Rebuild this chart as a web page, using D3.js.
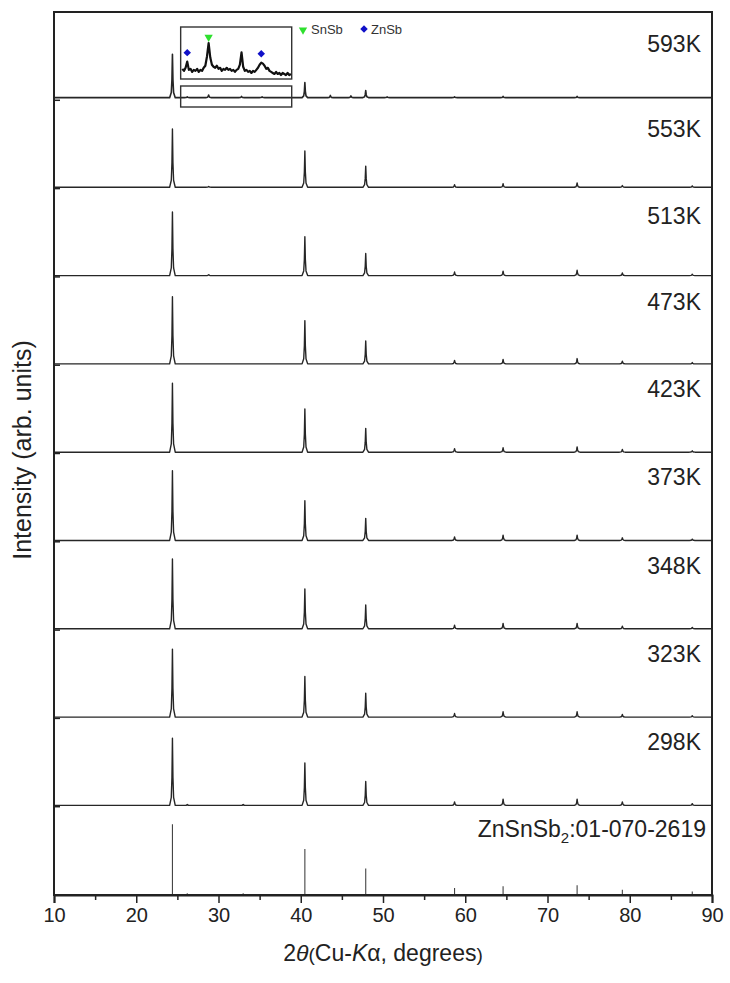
<!DOCTYPE html>
<html><head><meta charset="utf-8">
<script src="https://cdn.jsdelivr.net/npm/d3@7/dist/d3.min.js"></script>
<style>body{margin:0;background:#fff}svg{display:block}text{font-family:"Liberation Sans",Arial,sans-serif}</style>
</head><body>
<svg id="c" width="730" height="983"></svg>
<script>
// ---- data ----
const sampleLabels = ["593K","553K","513K","473K","423K","373K","348K","323K","298K"];
// peaks: [2theta, intensity (% of panel height)]
const peaks593 = [[24.4,49],[26.2,1],[28.8,3],[32.8,1.5],[35.3,1],[40.5,17],[43.6,2.5],[46.1,2],[47.9,8],[50.5,0.8],[58.7,1],[64.6,1.5],[73.6,1.5]];
const peaks553 = [[24.4,66],[28.8,1],[40.5,41],[47.9,24],[58.7,3],[64.6,4],[73.6,5],[79.1,2],[87.6,1.5]];
const peaks513 = [[24.4,72],[28.8,1],[40.5,44],[47.9,25],[58.7,4],[64.6,5],[73.6,6],[79.1,3],[87.6,1.5]];
const peaks473 = [[24.4,76],[40.5,49],[47.9,26],[58.7,4],[64.6,5],[73.6,6],[79.1,3],[87.6,1.5]];
const peaks423 = [[24.4,78],[40.5,49],[47.9,27],[58.7,4],[64.6,5],[73.6,6],[79.1,3],[87.6,1.5]];
const peaks373 = [[24.4,79],[40.5,45],[47.9,25],[58.7,4],[64.6,6],[73.6,6],[79.1,3],[87.6,1.5]];
const peaks348 = [[24.4,79],[40.5,45],[47.9,27],[58.7,4],[64.6,6],[73.6,6],[79.1,3],[87.6,1.5]];
const peaks323 = [[24.4,77],[40.5,46],[47.9,27],[58.7,4],[64.6,6],[73.6,6],[79.1,3],[87.6,1.5]];
const peaks298 = [[24.4,76],[26.2,1],[33,1],[40.5,48],[47.9,27],[58.7,4],[64.6,7],[73.6,7],[79.1,4],[87.6,2]];
const baselines = [3,1.5,1.5,1.5,1.5,1.5,1.5,1.5,1.5];
// reference pattern ZnSnSb2 01-070-2619: [2theta, relative intensity %]
const refSticks = [[24.4,80],[26.2,2],[33.0,2],[40.5,52],[47.9,30],[58.7,8],[64.6,10],[73.6,11],[79.1,6],[87.6,4]];
const refLabel = "ZnSnSb";
// inset: zoom of 593K pattern 25.6–38.8 deg (step 0.2)
const insetStart = 25.6, insetStep = 0.2;
const insetVals = [6,4,7,13,5,6,3,5,4,6,3,5,4,7,9,18,31,17,10,8,7,9,6,7,4,6,5,7,5,6,4,5,3,5,6,10,22,8,4,5,3,4,2,4,3,5,7,10,12,11,9,6,7,4,3,2,1,3,1,2,0,2,1,0,2,0,1];
const snsbMarks = [28.8];
const znsbMarks = [26.2, 35.2];
const xTicks = [10,20,30,40,50,60,70,80,90];

// ---- layout ----
const svg = d3.select("#c");
const L = 54, R = 712, T = 12, B = 895;
const nPanels = 10, pH = (B - T) / nPanels;
const labelDy = [40,37,35,33,32,31,32,32,32,30];
const FONT = '"Liberation Sans",Arial,sans-serif';
const x = d3.scaleLinear().domain([10, 90]).range([L, R]);
const peakSeries = [peaks593,peaks553,peaks513,peaks473,peaks423,peaks373,peaks348,peaks323,peaks298];
const shape = [[-0.34,0],[-0.14,0.12],[-0.06,0.42],[0,1],[0.06,0.42],[0.14,0.12],[0.34,0]];

function buildPoints(pk, b) {
  const pts = [[10, b]];
  pk.slice().sort((a,c)=>a[0]-c[0]).forEach(([p,h]) => {
    shape.forEach(([dx,f]) => pts.push([p+dx, b + h*f]));
  });
  pts.push([90, b]);
  return pts;
}

const col = "#262626";
peakSeries.forEach((pk, i) => {
  const bot = T + pH*(i+1);
  const y = d3.scaleLinear().domain([0,100]).range([bot, bot - pH]);
  const line = d3.line().x(d=>x(d[0])).y(d=>y(d[1]));
  svg.append("path").attr("d", line(buildPoints(pk, baselines[i])))
    .attr("fill","none").attr("stroke",col).attr("stroke-width", i===0?1.6:1.4).attr("stroke-linejoin","round");
  svg.append("text").attr("x", 701).attr("y", bot - pH + labelDy[i]).attr("text-anchor","end")
    .attr("font-size",23).attr("fill","#222").text(sampleLabels[i]);
});

// reference sticks
{
  const bot = B;
  const y = d3.scaleLinear().domain([0,100]).range([bot, bot - pH]);
  svg.selectAll(".stick").data(refSticks).enter().append("line")
    .attr("x1",d=>x(d[0])).attr("x2",d=>x(d[0])).attr("y1",y(0)).attr("y2",d=>y(d[1]))
    .attr("stroke","#444").attr("stroke-width",1.1);
  const t = svg.append("text").attr("x",706).attr("y", bot - pH + labelDy[9]).attr("text-anchor","end")
    .attr("font-size",23).attr("fill","#222");
  t.append("tspan").text(refLabel);
  t.append("tspan").attr("font-size",15).attr("dy",6).text("2");
  t.append("tspan").attr("dy",-6).text(":01-070-2619");
}

// inset boxes
const ix0 = x(insetStart - 0.2), ix1 = x(insetStart + insetStep*(insetVals.length-1) + 0.1);
svg.append("rect").attr("x",ix0).attr("y",86).attr("width",ix1-ix0).attr("height",21)
  .attr("fill","none").attr("stroke","#333").attr("stroke-width",1.4);
svg.append("rect").attr("x",ix0).attr("y",27).attr("width",ix1-ix0).attr("height",52)
  .attr("fill","#fff").attr("stroke","#333").attr("stroke-width",1.4);
const iy = d3.scaleLinear().domain([0,35]).range([75, 39]);
const insetLine = d3.line().x((d,i)=>x(insetStart + i*insetStep)).y(d=>iy(d));
svg.append("path").attr("d", insetLine(insetVals)).attr("fill","none")
  .attr("stroke","#111").attr("stroke-width",2.2).attr("stroke-linejoin","round");
function valAt(t){ const k = Math.round((t-insetStart)/insetStep); return insetVals[k]; }
const tri = d3.symbol().type(d3.symbolTriangle).size(30)();
const dia = d3.symbol().type(d3.symbolSquare).size(28)();
snsbMarks.forEach(t => {
  svg.append("path").attr("d", tri)
    .attr("transform",`translate(${x(t)},${iy(valAt(t)) - 6}) rotate(180)`).attr("fill","#2ee02e");
});
znsbMarks.forEach(t => {
  svg.append("path").attr("d", dia)
    .attr("transform",`translate(${x(t)},${iy(valAt(t)) - 9}) rotate(45)`).attr("fill","#1010c8");
});
// legend
svg.append("path").attr("d", tri).attr("transform","translate(303,30) rotate(180)").attr("fill","#2ee02e");
svg.append("text").attr("x",311).attr("y",34).attr("font-size",13).attr("fill","#333").text("SnSb");
svg.append("path").attr("d", dia).attr("transform","translate(364,29) rotate(45)").attr("fill","#1010c8");
svg.append("text").attr("x",371).attr("y",34).attr("font-size",13).attr("fill","#333").text("ZnSb");

// frame
svg.append("rect").attr("x",L).attr("y",T).attr("width",R-L).attr("height",B-T)
  .attr("fill","none").attr("stroke","#222").attr("stroke-width",2);
d3.range(1, nPanels).forEach(k => {
  svg.append("line").attr("x1",L).attr("x2",L+6).attr("y1",T+pH*k).attr("y2",T+pH*k)
    .attr("stroke","#222").attr("stroke-width",1.5);
});
// x axis
const xAxis = d3.axisBottom(x).tickValues(xTicks).tickSize(8).tickPadding(5).tickFormat(d3.format("d"));
const gx = svg.append("g").attr("transform",`translate(0,${B})`).call(xAxis);
gx.select(".domain").attr("stroke","#222").attr("stroke-width",2);
gx.selectAll(".tick line").attr("stroke","#222").attr("stroke-width",1.5);
gx.selectAll("text").attr("font-size",20).attr("fill","#222").attr("font-family",FONT);
const minor = d3.axisBottom(x).tickValues(d3.range(15, 90, 10)).tickSize(5).tickFormat("");
const gm = svg.append("g").attr("transform",`translate(0,${B})`).call(minor);
gm.select(".domain").remove();
gm.selectAll(".tick line").attr("stroke","#222").attr("stroke-width",1.5);

// axis titles
const xt = svg.append("text").attr("x",383).attr("y",961).attr("text-anchor","middle").attr("font-size",23).attr("fill","#222");
xt.append("tspan").text("2");
xt.append("tspan").attr("font-style","italic").text("θ");
xt.append("tspan").attr("font-size",19).text("(");
xt.append("tspan").text("Cu-");
xt.append("tspan").attr("font-style","italic").text("K");
xt.append("tspan").text("α, degrees");
xt.append("tspan").attr("font-size",19).text(")");
svg.append("text").attr("transform","translate(31,450) rotate(-90)").attr("text-anchor","middle")
  .attr("font-size",25).attr("fill","#222").text("Intensity (arb. units)");
</script>
</body></html>
